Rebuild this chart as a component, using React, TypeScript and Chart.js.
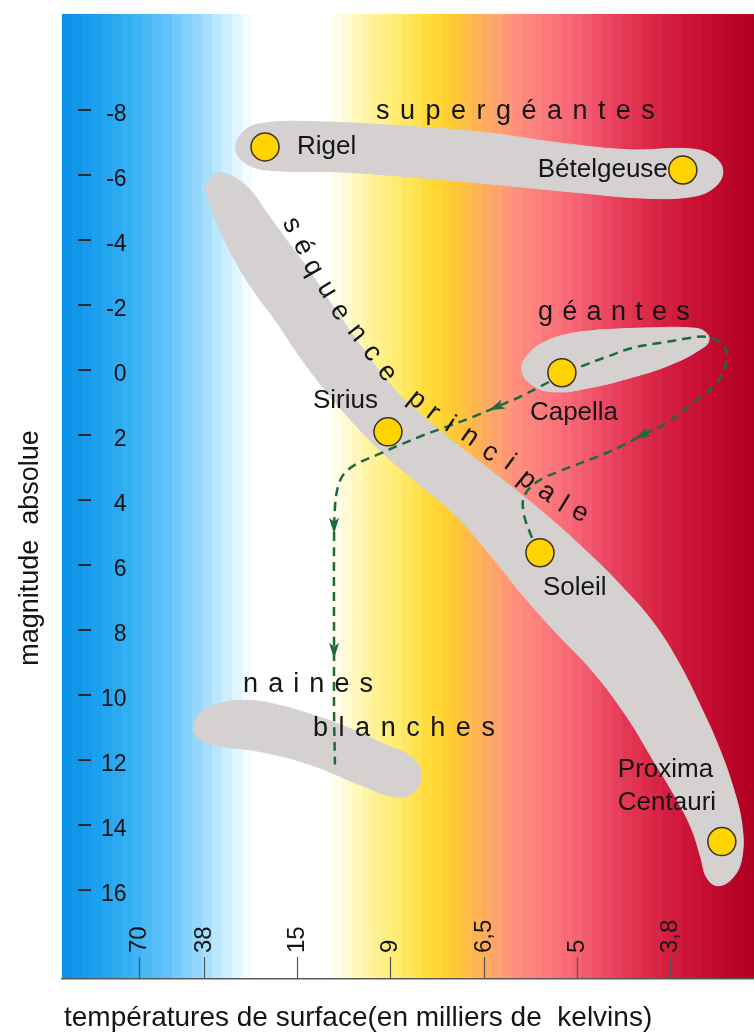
import React, { useEffect, useRef } from 'react';
import { Chart, registerables } from 'chart.js';

Chart.register(...registerables);

const FONT = '"Liberation Sans", Arial, Helvetica, sans-serif';

// ---- axes ----
const tempLabels = ['70', '38', '15', '9', '6,5', '5', '3,8'];
const tempTickPos = [0.31, 1, 2, 3, 4, 5, 6];
const magTicks = [-8, -6, -4, -2, 0, 2, 4, 6, 8, 10, 12, 14, 16];

// ---- stars ----
const starNames = ['Rigel', 'Bételgeuse', 'Capella', 'Sirius', 'Soleil', 'Proxima Centauri'];
const starX = [1.657, 6.137, 4.84, 2.975, 4.605, 6.555];
const starY = [-6.86, -6.15, 0.09, 1.91, 5.63, 14.52];

// ---- regions (outlines, temperature index / absolute magnitude) ----
const superGiantX = [3.104, 3.961, 4.819, 5.569, 6.212, 6.459, 6.566, 6.469, 6.212, 5.676, 5.033, 4.176, 3.318, 2.461, 1.818, 1.496, 1.346, 1.432, 1.668, 2.247, 3.104];
const superGiantY = [-7.51, -7.32, -6.98, -6.77, -6.8, -6.58, -6.12, -5.6, -5.32, -5.29, -5.45, -5.69, -5.91, -6.09, -6.12, -6.28, -6.77, -7.35, -7.6, -7.63, -7.51];

const mainSeqX = [2.375, 2.675, 3.029, 3.393, 3.747, 4.122, 4.605, 5.087, 5.516, 5.837, 6.105, 6.319, 6.512, 6.673, 6.77, 6.77, 6.673, 6.512, 6.394, 6.33, 6.234, 6.073, 5.816, 5.537, 5.173, 4.819, 4.444, 4.069, 3.693, 3.318, 2.943, 2.622, 2.3, 2.032, 1.786, 1.528, 1.314, 1.143, 1.025, 1.068, 1.175, 1.314, 1.496, 1.689, 1.925, 2.139, 2.375];
const mainSeqY = [-2.0, -0.77, 0.55, 1.54, 2.37, 3.2, 4.31, 5.54, 6.77, 7.85, 9.08, 10.31, 11.54, 12.83, 14.0, 15.02, 15.63, 15.88, 15.63, 15.02, 14.15, 13.23, 12.0, 10.68, 9.29, 8.22, 7.02, 5.69, 4.46, 3.54, 2.62, 1.69, 0.62, -0.4, -1.45, -2.46, -3.48, -4.52, -5.54, -5.91, -6.06, -5.94, -5.54, -4.77, -3.85, -3.02, -2.0];

const giantX = [5.248, 5.784, 6.212, 6.373, 6.416, 6.319, 5.998, 5.569, 5.14, 4.765, 4.519, 4.412, 4.476, 4.659, 4.927, 5.248];
const giantY = [-1.23, -1.29, -1.29, -1.17, -0.89, -0.62, -0.15, 0.25, 0.55, 0.68, 0.46, 0.0, -0.46, -0.86, -1.11, -1.23];

const dwarfX = [1.925, 2.461, 2.943, 3.233, 3.329, 3.243, 3.05, 2.675, 2.139, 1.603, 1.121, 0.906, 0.939, 1.121, 1.496, 1.925];
const dwarfY = [10.4, 10.92, 11.54, 11.94, 12.46, 13.02, 13.14, 12.77, 12.15, 11.75, 11.54, 11.23, 10.65, 10.31, 10.18, 10.4];

// ---- evolution track of a Sun-like star ----
const trackX = [4.519, 4.433, 4.433, 4.572, 4.851, 5.215, 5.462, 5.708, 5.966, 6.244, 6.502, 6.587, 6.609, 6.534, 6.373, 6.212, 5.966, 5.601, 5.323, 5.033, 4.851, 4.605, 4.39, 4.144, 3.886, 3.608, 3.34, 3.104, 2.857, 2.643, 2.504, 2.439, 2.407, 2.397, 2.397, 2.397, 2.407];
const trackY = [5.17, 4.46, 3.91, 3.45, 3.08, 2.68, 2.37, 2.0, 1.63, 1.02, 0.4, -0.09, -0.52, -0.86, -1.02, -0.98, -0.86, -0.68, -0.4, -0.09, 0.15, 0.52, 0.83, 1.14, 1.45, 1.75, 2.03, 2.31, 2.62, 2.89, 3.2, 3.6, 4.22, 5.23, 8.62, 10.5, 12.15];

// ---- background spectrum (x index -> colour) ----
const bgStopX = [-0.52, -0.165, 0.21, 0.585, 0.907, 1.196, 1.443, 1.582, 2.332, 2.514, 2.804, 3.104, 3.404, 3.661, 3.908, 4.176, 4.39, 4.658, 4.98, 5.355, 5.73, 6.105, 6.48, 6.9];
const bgStopColor = ['#0790e6', '#1aa0ee', '#35b0f5', '#5ec2fa', '#8fd6fc', '#c4ebfe', '#f0faff', '#ffffff', '#ffffff', '#fffbd6', '#fff39a', '#ffea6a', '#ffdc3a', '#ffcc30', '#ffb650', '#ffa070', '#ff8c7e', '#fb7a7c', '#f56474', '#e94460', '#dd2c4a', '#d0183c', '#c10a2e', '#b00020'];

const BLOB = '#d5d1d1';
const TRACK = '#1b6b3f';

export default function App() {
  const canvasRef = useRef<HTMLCanvasElement | null>(null);

  useEffect(() => {
    const canvas = canvasRef.current;
    if (!canvas) return;

    const pts = (xs: number[], ys: number[]) => xs.map((x, i) => ({ x, y: ys[i] }));
    const hex = (h: string) => [1, 3, 5].map((i) => parseInt(h.slice(i, i + 2), 16));

    const backgroundPlugin = {
      id: 'spectrumBackground',
      beforeDraw(chart: any) {
        const { ctx, chartArea, scales } = chart;
        const { left, right, top, bottom } = chartArea;
        const sp = bgStopX.map((v) => scales.x.getPixelForValue(v));
        const cols = bgStopColor.map(hex);
        const colorAt = (p: number) => {
          if (p <= sp[0]) return cols[0];
          for (let i = 0; i < sp.length - 1; i++) {
            if (p <= sp[i + 1]) {
              const t = (p - sp[i]) / (sp[i + 1] - sp[i]);
              return cols[i].map((c, k) => Math.round(c + (cols[i + 1][k] - c) * t));
            }
          }
          return cols[cols.length - 1];
        };
        ctx.save();
        const band = 10;
        for (let p = left; p < right; p += band) {
          const w = Math.min(band, right - p);
          const c = colorAt(p + w / 2);
          ctx.fillStyle = `rgb(${c[0]},${c[1]},${c[2]})`;
          ctx.fillRect(p, top, w + 0.5, bottom - top);
        }
        ctx.restore();
      },
    };

    const starLabels = [
      { star: 0, x: 2.0, y: -6.86, align: 'left' },
      { star: 1, x: 5.976, y: -6.15, align: 'right' },
      { star: 2, x: 4.497, y: 1.32, align: 'left' },
      { star: 3, x: 2.171, y: 0.95, align: 'left' },
      { star: 4, x: 4.637, y: 6.71, align: 'left' },
      { star: 5, x: 5.44, y: 12.31, align: 'left' },
    ];
    const spacedLabels = [
      { text: 'supergéantes', x0: 2.847, x1: 5.837, y: -7.94 },
      { text: 'géantes', x0: 4.583, x1: 6.212, y: -1.75 },
      { text: 'naines', x0: 1.421, x1: 2.815, y: 9.69 },
      { text: 'blanches', x0: 2.171, x1: 4.122, y: 11.05 },
    ];
    const curved: [string, number, number, number][] = [
      ['s', 1.946, -4.46, 0], ['é', 2.064, -3.78, 0], ['q', 2.171, -3.14, 0], ['u', 2.322, -2.46, 0],
      ['e', 2.461, -1.78, 0], ['n', 2.643, -1.14, 0], ['c', 2.804, -0.52, 0], ['e', 2.965, 0.09, 0],
      ['p', 3.286, 0.92, 1], ['r', 3.458, 1.32, 1], ['i', 3.64, 1.69, 1], ['n', 3.854, 2.06, 1],
      ['c', 4.069, 2.55, 1], ['i', 4.283, 2.86, 1], ['p', 4.465, 3.38, 1], ['a', 4.68, 3.78, 1],
      ['l', 4.851, 4.15, 1], ['e', 5.033, 4.4, 1],
    ];
    const arrows = [
      { x: 5.708, y: 2.0, fx: 5.966, fy: 1.63 },
      { x: 4.144, y: 1.14, fx: 4.39, fy: 0.83 },
      { x: 2.397, y: 4.77, fx: 2.397, fy: 4.2 },
      { x: 2.397, y: 8.62, fx: 2.397, fy: 8.0 },
    ];

    const annotationPlugin = {
      id: 'hrAnnotations',
      afterDatasetsDraw(chart: any) {
        const { ctx, chartArea, scales } = chart;
        const X = (v: number) => scales.x.getPixelForValue(v);
        const Y = (v: number) => scales.y.getPixelForValue(v);
        ctx.save();

        // arrow heads on the track
        ctx.fillStyle = TRACK;
        for (const a of arrows) {
          const px = X(a.x), py = Y(a.y);
          const dx = px - X(a.fx), dy = py - Y(a.fy);
          const len = Math.hypot(dx, dy) || 1;
          const ux = dx / len, uy = dy / len;
          ctx.beginPath();
          ctx.moveTo(px + ux * 9, py + uy * 9);
          ctx.lineTo(px - ux * 7 - uy * 5, py - uy * 7 + ux * 5);
          ctx.lineTo(px - ux * 3, py - uy * 3);
          ctx.lineTo(px - ux * 7 + uy * 5, py - uy * 7 - ux * 5);
          ctx.closePath();
          ctx.fill();
        }

        ctx.fillStyle = '#151515';
        ctx.textBaseline = 'middle';

        // star names
        ctx.font = `26px ${FONT}`;
        for (const l of starLabels) {
          ctx.textAlign = l.align;
          const lines = starNames[l.star].split(' ');
          lines.forEach((t, i) => ctx.fillText(t, X(l.x), Y(l.y) + i * 33));
        }

        // letter-spaced region names
        ctx.font = `27px ${FONT}`;
        ctx.textAlign = 'left';
        for (const s of spacedLabels) {
          const x0 = X(s.x0), x1 = X(s.x1), yy = Y(s.y);
          const chars = Array.from(s.text);
          const widths = chars.map((c) => ctx.measureText(c).width);
          const total = widths.reduce((a, b) => a + b, 0);
          const gap = (x1 - x0 - total) / (chars.length - 1);
          let cx = x0;
          chars.forEach((c, i) => {
            ctx.fillText(c, cx, yy);
            cx += widths[i] + gap;
          });
        }

        // curved "séquence principale"
        ctx.textAlign = 'center';
        curved.forEach((c, i) => {
          const prev = i > 0 && curved[i - 1][3] === c[3] ? curved[i - 1] : c;
          const next = i < curved.length - 1 && curved[i + 1][3] === c[3] ? curved[i + 1] : c;
          const ang = Math.atan2(Y(next[2]) - Y(prev[2]), X(next[1]) - X(prev[1]));
          ctx.save();
          ctx.translate(X(c[1]), Y(c[2]));
          ctx.rotate(ang);
          ctx.fillText(c[0], 0, 0);
          ctx.restore();
        });

        // y tick dashes
        ctx.strokeStyle = '#2a2a2a';
        ctx.lineWidth = 2;
        for (const v of magTicks) {
          const yy = Math.round(Y(v));
          ctx.beginPath();
          ctx.moveTo(chartArea.left + 16, yy);
          ctx.lineTo(chartArea.left + 29, yy);
          ctx.stroke();
        }

        // x tick marks + rotated labels (inside the plot)
        ctx.strokeStyle = '#555';
        ctx.lineWidth = 1.2;
        ctx.font = `24px ${FONT}`;
        ctx.fillStyle = '#151515';
        tempTickPos.forEach((v, i) => {
          const xx = Math.round(X(v)) + 0.5;
          ctx.beginPath();
          ctx.moveTo(xx, chartArea.bottom - 22);
          ctx.lineTo(xx, chartArea.bottom);
          ctx.stroke();
          ctx.save();
          ctx.translate(xx, chartArea.bottom - 26);
          ctx.rotate(-Math.PI / 2);
          ctx.textAlign = 'left';
          ctx.textBaseline = 'middle';
          ctx.fillText(tempLabels[i], 0, 0);
          ctx.restore();
        });

        // axis titles
        ctx.fillStyle = '#151515';
        ctx.font = `28px ${FONT}`;
        ctx.textAlign = 'left';
        ctx.textBaseline = 'middle';
        ctx.fillText('températures de surface(en milliers de  kelvins)', chartArea.left + 2, chartArea.bottom + 39);

        ctx.save();
        ctx.translate(chartArea.left - 31, chartArea.top + 534);
        ctx.rotate(-Math.PI / 2);
        ctx.font = `27px ${FONT}`;
        ctx.textAlign = 'center';
        ctx.fillText('magnitude  absolue', 0, 0);
        ctx.restore();

        ctx.restore();
      },
    };

    const blob = (label: string, xs: number[], ys: number[], tension: number) => ({
      label,
      data: pts(xs, ys),
      showLine: true,
      fill: 'shape',
      backgroundColor: BLOB,
      borderColor: BLOB,
      borderWidth: 1,
      pointRadius: 0,
      tension,
      order: 3,
    });

    const chart = new Chart(canvas, {
      type: 'line',
      data: {
        datasets: [
          {
            label: 'étoiles',
            data: pts(starX, starY),
            showLine: false,
            pointRadius: 14,
            pointBackgroundColor: '#ffd400',
            pointBorderColor: '#3b3222',
            pointBorderWidth: 1.5,
            order: 1,
          } as any,
          {
            label: 'évolution du Soleil',
            data: pts(trackX, trackY),
            borderColor: TRACK,
            borderWidth: 2.5,
            borderDash: [9, 6],
            pointRadius: 0,
            fill: false,
            tension: 0.35,
            order: 2,
          },
          blob('supergéantes', superGiantX, superGiantY, 0.4),
          blob('séquence principale', mainSeqX, mainSeqY, 0.4),
          blob('géantes', giantX, giantY, 0.45),
          blob('naines blanches', dwarfX, dwarfY, 0.45),
        ],
      },
      options: {
        animation: false,
        responsive: false,
        devicePixelRatio: 1,
        events: [],
        layout: { autoPadding: false, padding: { top: 14, left: 0, right: 0, bottom: 0 } },
        plugins: {
          legend: { display: false },
          tooltip: { enabled: false },
          title: { display: false },
        },
        scales: {
          x: {
            type: 'linear',
            min: -0.52,
            max: 6.9,
            grid: { display: false },
            border: { display: true, color: '#5a5a5a', width: 1.5 },
            ticks: { display: false },
            afterFit: (s: any) => {
              s.height = 54;
              s.paddingLeft = 0;
              s.paddingRight = 0;
            },
          },
          y: {
            type: 'linear',
            reverse: true,
            min: -10.95,
            max: 18.75,
            position: 'left',
            grid: { display: false },
            border: { display: false },
            afterBuildTicks: (s: any) => {
              s.ticks = magTicks.map((v) => ({ value: v }));
            },
            afterFit: (s: any) => {
              s.width = 62;
              s.paddingTop = 0;
              s.paddingBottom = 0;
            },
            ticks: {
              autoSkip: false,
              mirror: true,
              crossAlign: 'far',
              padding: 39,
              labelOffset: 5,
              color: '#111',
              font: { family: FONT, size: 23 },
              callback: (v: any) => (Number(v) < 0 ? '-' + Math.abs(Number(v)) : String(v)),
            },
          },
        },
      } as any,
      plugins: [backgroundPlugin, annotationPlugin],
    });

    return () => chart.destroy();
  }, []);

  return (
    <div style={{ position: 'absolute', left: 0, top: 0, width: 754, height: 1033, background: '#fff' }}>
      <canvas ref={canvasRef} width={754} height={1033} style={{ display: 'block' }} />
    </div>
  );
}
